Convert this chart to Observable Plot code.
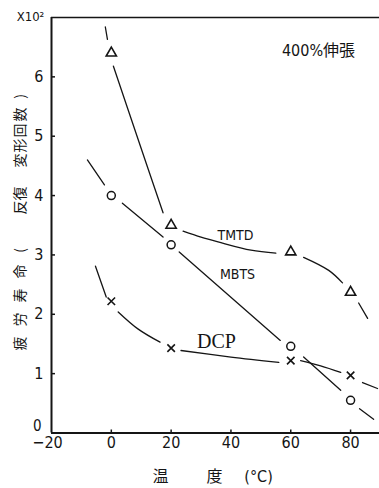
<!DOCTYPE html>
<html><head><meta charset="utf-8">
<script src="https://cdn.jsdelivr.net/npm/d3@7"></script>
<script src="https://cdn.jsdelivr.net/npm/@observablehq/plot@0.6"></script>
<style>body{margin:0;background:#fff} svg{display:block}</style>
</head><body><div id="chart"></div>
<script>
// ---- data ----
const temps = [0, 20, 60, 80];
const tmtd = [6.4, 3.5, 3.05, 2.37];
const mbts = [4.0, 3.17, 1.46, 0.55];
const dcp  = [2.22, 1.43, 1.22, 0.97];
const xTicks = [-20, 0, 20, 40, 60, 80];
const yTicks = [0, 1, 2, 3, 4, 5, 6];
// hand-drawn curve traces: [temp, value, segment]
const tmtdTrace = [[-2,6.84,0],[-1.3,6.63,0],[0.7,6.18,1],[9,4.94,1],[17.3,3.71,1],
  [24,3.40,2],[30,3.30,2],[35.7,3.22,2],[46.7,3.08,2],[55,3.03,2],
  [64.3,2.96,3],[72.7,2.74,3],[77.3,2.53,3],[82.7,2.19,4],[85.7,1.93,4]];
const mbtsTrace = [[-8,4.60,0],[-2.3,4.18,0],[3.7,3.87,1],[17.3,3.30,1],
  [22.7,3.05,2],[56.5,1.56,2],[64.3,1.28,3],[76.7,0.72,3],[83,0.41,4],[87.7,0.23,4]];
const dcpTrace = [[-5.3,2.81,0],[-1.7,2.29,0],[2.3,2.04,1],[9,1.75,1],[16.3,1.53,1],
  [23.3,1.39,2],[40,1.28,2],[56,1.19,2],[63.3,1.22,3],[70,1.13,3],[76.7,1.02,3],[84,0.85,4],[89,0.75,4]];
const seriesNames = ["TMTD", "MBTS", "DCP"];
const cornerNote = "400%伸張";
const unitNote = "X10²";
const xTitleParts = ["温", "度", "(°C)"];
const yTitleChars = ["疲","労","寿","命","(","反","復","変","形","回","数",")"];

// ---- build tables ----
const traces = [
  ...tmtdTrace.map(([x,y,s]) => ({x, y, key: "TMTD" + s})),
  ...mbtsTrace.map(([x,y,s]) => ({x, y, key: "MBTS" + s})),
  ...dcpTrace.map(([x,y,s]) => ({x, y, key: "DCP" + s}))
];
const ptsT = temps.map((t,i) => ({t, v: tmtd[i]}));
const ptsM = temps.map((t,i) => ({t, v: mbts[i]}));
const ptsD = temps.map((t,i) => ({t, v: dcp[i]}));

// ---- layout ----
const W = 379, H = 488, mL = 51, mT = 17, mB = 55.5, mR = 0;
const ink = "#151515";
const sans = "'DejaVu Sans Condensed','DejaVu Sans',sans-serif";
const cjk = "'Noto Sans CJK JP','Noto Sans CJK SC',sans-serif";
const yTitlePos = [343, 319, 295, 271, 250, 207, 193, 160, 145, 130, 114, 96];
const xTitleDx = [109, 163, 207];

const label = (txt, dx, dy, opts = {}) => Plot.text([txt], {
  text: d => d, frameAnchor: "top-left", dx, dy, fill: ink,
  textAnchor: "middle", lineAnchor: "middle", ...opts
});

const marks = [
  Plot.axisX(xTicks.slice(1), {tickSize: 0, tickPadding: 4, fontSize: 16, label: null, fill: ink, tickFormat: "d"}),
  Plot.axisX(xTicks.slice(0, 1), {tickSize: 0, tickPadding: 4, fontSize: 16, label: null, fill: ink, tickFormat: "d", dx: -4}),
  Plot.axisY(yTicks.slice(1), {tickSize: 0, tickPadding: 8, fontSize: 16, label: null, fill: ink, tickFormat: "d"}),
  Plot.axisY(yTicks.slice(0, 1), {tickSize: 0, tickPadding: 10, fontSize: 15, label: null, fill: ink, tickFormat: "d", dy: -7}),
  Plot.tickX(xTicks.slice(1), {x: d => d, insetTop: (H - mT - mB) - 3, stroke: ink, strokeWidth: 1.5}),
  Plot.tickY(yTicks.slice(1), {y: d => d, insetRight: (W - mL - mR) - 4, stroke: ink, strokeWidth: 1.5}),
  Plot.ruleX([-20], {stroke: ink, strokeWidth: 2}),
  Plot.ruleY([0], {stroke: ink, strokeWidth: 2}),
  Plot.ruleY([7], {stroke: ink, strokeWidth: 1.5}),
  Plot.line(traces, {x: "x", y: "y", z: "key", curve: "catmull-rom", stroke: ink, strokeWidth: 1.3}),
  Plot.dot(ptsT, {x: "t", y: "v", symbol: "triangle", r: 3.8, stroke: ink, strokeWidth: 1.6, fill: "none"}),
  Plot.dot(ptsM, {x: "t", y: "v", symbol: "circle", r: 4, stroke: ink, strokeWidth: 1.5, fill: "none"}),
  Plot.dot(ptsD, {x: "t", y: "v", symbol: "times", r: 3.5, stroke: ink, strokeWidth: 1.6, fill: "none"}),
  label(seriesNames[0], 184, 218, {fontSize: 14, fontFamily: sans}),
  label(seriesNames[1], 186, 257, {fontSize: 14, fontFamily: sans}),
  label(seriesNames[2], 165, 324, {fontSize: 20, fontFamily: "'Liberation Serif','DejaVu Serif',serif"}),
  label(cornerNote, 267, 33, {fontSize: 16, fontFamily: "'DejaVu Sans Condensed','Noto Sans CJK JP',sans-serif"}),
  label(unitNote, -21, -1, {fontSize: 13, fontFamily: sans}),
  ...xTitleParts.map((t, i) => label(t, xTitleDx[i], 476 - mT, {fontSize: 16, fontFamily: i === 2 ? sans : cjk})),
  ...yTitleChars.map((t, i) => label(t, 20 - mL, yTitlePos[i] - mT, {fontSize: 14, rotate: -90, fontFamily: cjk}))
];

const chart = Plot.plot({
  width: W, height: H,
  marginLeft: mL, marginTop: mT, marginBottom: mB, marginRight: mR,
  x: {domain: [-20, 89.67]},
  y: {domain: [0, 7]},
  style: {fontFamily: sans, background: "#fff", color: ink, overflow: "visible"},
  marks
});
document.getElementById("chart").appendChild(chart);
</script>
</body></html>
